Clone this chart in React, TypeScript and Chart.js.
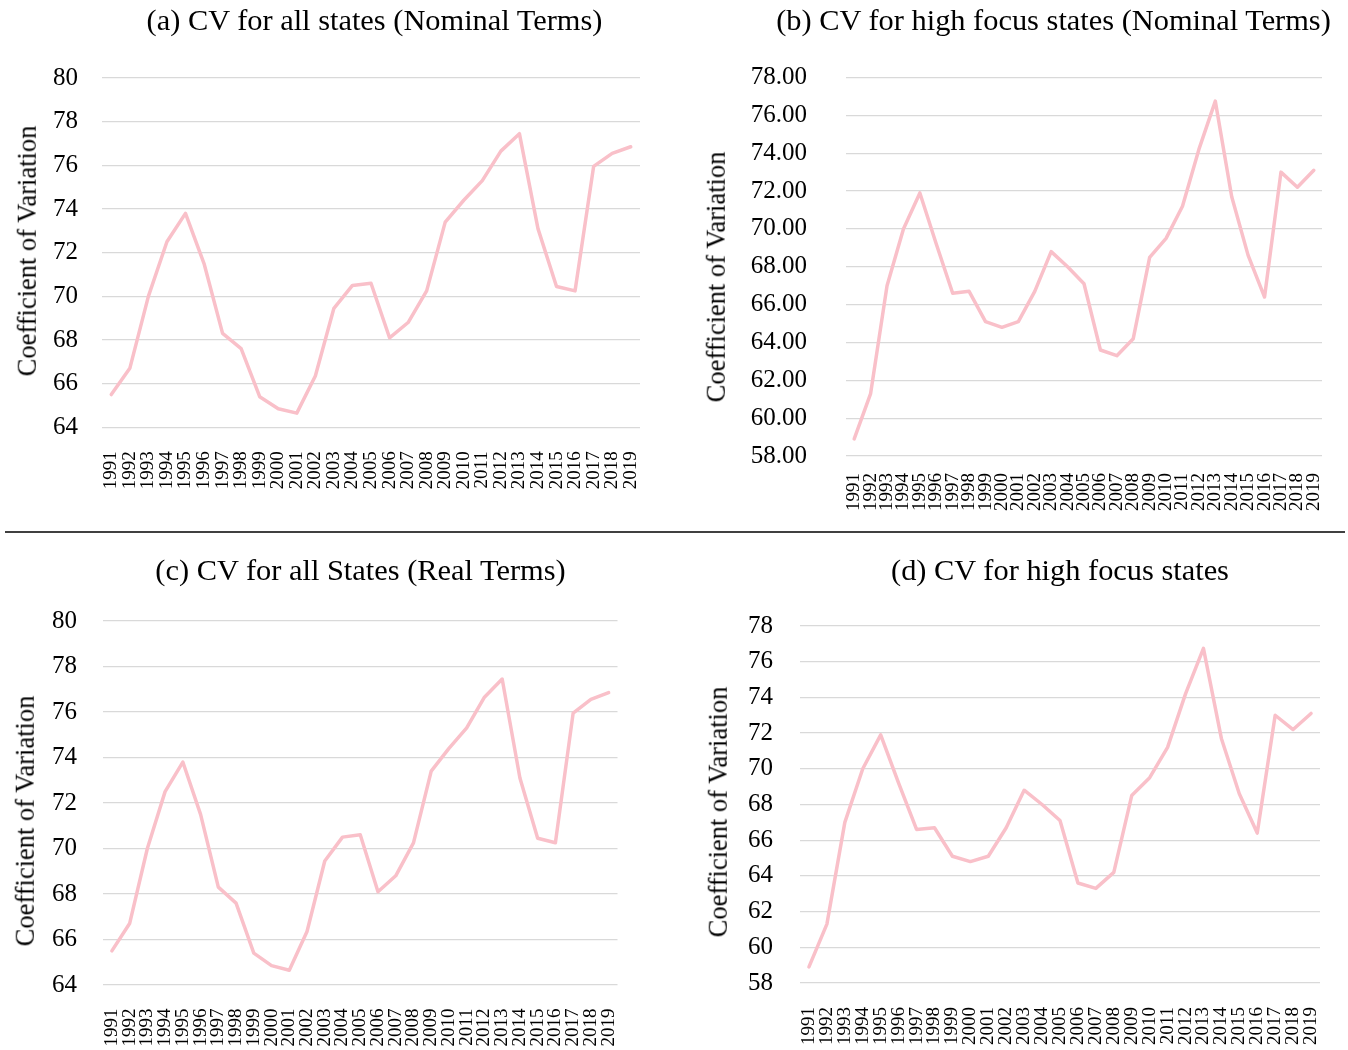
import React, { useEffect, useRef } from "react";
import { Chart, registerables } from "chart.js";

Chart.register(...registerables);

// ---------- data ----------
const years = [
  "1991", "1992", "1993", "1994", "1995", "1996", "1997", "1998", "1999", "2000",
  "2001", "2002", "2003", "2004", "2005", "2006", "2007", "2008", "2009", "2010",
  "2011", "2012", "2013", "2014", "2015", "2016", "2017", "2018", "2019",
];

const cvAllNominal = [
  65.5, 66.7, 70.0, 72.5, 73.8, 71.5, 68.3, 67.6, 65.4, 64.85,
  64.65, 66.35, 69.45, 70.5, 70.6, 68.1, 68.8, 70.25, 73.4, 74.4,
  75.3, 76.65, 77.45, 73.1, 70.45, 70.25, 75.95, 76.55, 76.85,
];

const cvHighFocusNominal = [
  58.9, 61.3, 67.0, 70.0, 71.9, 69.2, 66.6, 66.7, 65.1, 64.8,
  65.1, 66.7, 68.8, 68.0, 67.1, 63.6, 63.3, 64.2, 68.5, 69.5,
  71.2, 74.2, 76.75, 71.7, 68.6, 66.4, 73.0, 72.2, 73.1,
];

const cvAllReal = [
  65.5, 66.7, 70.0, 72.5, 73.8, 71.5, 68.3, 67.6, 65.4, 64.85,
  64.65, 66.35, 69.45, 70.5, 70.6, 68.1, 68.8, 70.25, 73.4, 74.4,
  75.3, 76.65, 77.45, 73.1, 70.45, 70.25, 75.95, 76.55, 76.85,
];

const cvHighFocus = [
  58.9, 61.3, 67.0, 70.0, 71.9, 69.2, 66.6, 66.7, 65.1, 64.8,
  65.1, 66.7, 68.8, 68.0, 67.1, 63.6, 63.3, 64.2, 68.5, 69.5,
  71.2, 74.2, 76.75, 71.7, 68.6, 66.4, 73.0, 72.2, 73.1,
];

const allStatesRange = [64, 80];
const highFocusRange = [58, 78];
const tickStep = 2;

const titleA = "(a) CV for all states (Nominal Terms)";
const titleB = "(b) CV for high focus states (Nominal Terms)";
const titleC = "(c) CV for all States (Real Terms)";
const titleD = "(d) CV for high focus states";
const yTitle = "Coefficient of Variation";

// ---------- style ----------
const FONT = "'Liberation Serif', 'Times New Roman', serif";
const LINE = "#F9C0C9";
const GRID = "#D9D9D9";
const X_AXIS_H = 70;

type Box = { left: number; top: number; width: number; height: number };
type Area = { left: number; right: number; top: number; bottom: number };

type PanelProps = {
  data: number[];
  range: number[];
  decimals: number;
  box: Box;
  area: Area;
  yPad: number;
  xPad: number;
};

function Panel({ data, range, decimals, box, area, yPad, xPad }: PanelProps) {
  const ref = useRef<HTMLCanvasElement | null>(null);
  useEffect(() => {
    if (!ref.current) return;
    const chart = new Chart(ref.current, {
      type: "line",
      data: {
        labels: years,
        datasets: [
          {
            data,
            borderColor: LINE,
            backgroundColor: LINE,
            borderWidth: 3.5,
            pointRadius: 0,
            tension: 0,
            fill: false,
            borderJoinStyle: "round",
            borderCapStyle: "round",
          },
        ],
      },
      options: {
        animation: false,
        responsive: false,
        devicePixelRatio: 1,
        plugins: {
          legend: { display: false },
          tooltip: { enabled: false },
          title: { display: false },
        },
        layout: {
          padding: {
            left: 0,
            top: area.top - box.top,
            right: box.left + box.width - area.right,
            bottom: box.top + box.height - area.bottom - X_AXIS_H,
          },
        },
        scales: {
          x: {
            type: "category",
            offset: true,
            grid: { display: false, drawTicks: false },
            border: { display: false },
            ticks: {
              autoSkip: false,
              minRotation: 90,
              maxRotation: 90,
              padding: xPad,
              color: "#000",
              font: { family: FONT, size: 19 },
            },
            afterFit: (s: any) => {
              s.height = X_AXIS_H;
              s.paddingLeft = 0;
              s.paddingRight = 0;
            },
          },
          y: {
            min: range[0],
            max: range[1],
            grid: { color: GRID, lineWidth: 1.3, drawTicks: false },
            border: { display: false },
            ticks: {
              stepSize: tickStep,
              padding: yPad,
              color: "#000",
              font: { family: FONT, size: 25 },
              callback: (v: any) => Number(v).toFixed(decimals),
            },
            afterFit: (s: any) => {
              s.width = area.left - box.left;
              s.paddingTop = 0;
              s.paddingBottom = 0;
            },
          },
        },
      },
    } as any);
    return () => chart.destroy();
  }, []);
  return (
    <canvas
      ref={ref}
      width={box.width}
      height={box.height}
      style={{
        position: "absolute",
        left: box.left,
        top: box.top,
        width: box.width,
        height: box.height,
      }}
    />
  );
}

function Title({ text, cx, cy }: { text: string; cx: number; cy: number }) {
  return (
    <div
      style={{
        position: "absolute",
        left: cx,
        top: cy,
        transform: "translate(-50%, -50%)",
        fontFamily: FONT,
        fontSize: 30.4,
        lineHeight: 1,
        whiteSpace: "nowrap",
        color: "#000",
      }}
    >
      {text}
    </div>
  );
}

function YTitle({ cx, cy }: { cx: number; cy: number }) {
  return (
    <div
      style={{
        position: "absolute",
        left: cx,
        top: cy,
        transform: "translate(-50%, -50%) rotate(-90deg)",
        fontFamily: FONT,
        fontSize: 26.5,
        lineHeight: 1,
        whiteSpace: "nowrap",
        color: "#000",
      }}
    >
      {yTitle}
    </div>
  );
}

export default function App() {
  return (
    <div
      style={{
        position: "absolute",
        left: 0,
        top: 0,
        width: 1348,
        height: 1050,
        overflow: "hidden",
        background: "#fff",
      }}
    >
      <Panel
        data={cvAllNominal}
        range={allStatesRange}
        decimals={0}
        box={{ left: 0, top: 0, width: 670, height: 520 }}
        area={{ left: 102, right: 640, top: 78, bottom: 427.3 }}
        yPad={24}
        xPad={24}
      />
      <Panel
        data={cvHighFocusNominal}
        range={highFocusRange}
        decimals={2}
        box={{ left: 680, top: 0, width: 668, height: 520 }}
        area={{ left: 846, right: 1322, top: 77.5, bottom: 456 }}
        yPad={39}
        xPad={17}
      />
      <Panel
        data={cvAllReal}
        range={allStatesRange}
        decimals={0}
        box={{ left: 0, top: 540, width: 670, height: 510 }}
        area={{ left: 103, right: 617.5, top: 621, bottom: 985 }}
        yPad={26}
        xPad={23.5}
      />
      <Panel
        data={cvHighFocus}
        range={highFocusRange}
        decimals={0}
        box={{ left: 680, top: 540, width: 668, height: 510 }}
        area={{ left: 800, right: 1320, top: 626, bottom: 983 }}
        yPad={27}
        xPad={24}
      />

      <Title text={titleA} cx={374.5} cy={20} />
      <Title text={titleB} cx={1053.5} cy={20} />
      <Title text={titleC} cx={360.5} cy={570} />
      <Title text={titleD} cx={1060} cy={570} />

      <YTitle cx={27} cy={251} />
      <YTitle cx={716} cy={277} />
      <YTitle cx={25} cy={821} />
      <YTitle cx={718} cy={812} />

      <div
        style={{
          position: "absolute",
          left: 5,
          top: 531,
          width: 1340,
          height: 1.5,
          background: "#404040",
        }}
      />
    </div>
  );
}
